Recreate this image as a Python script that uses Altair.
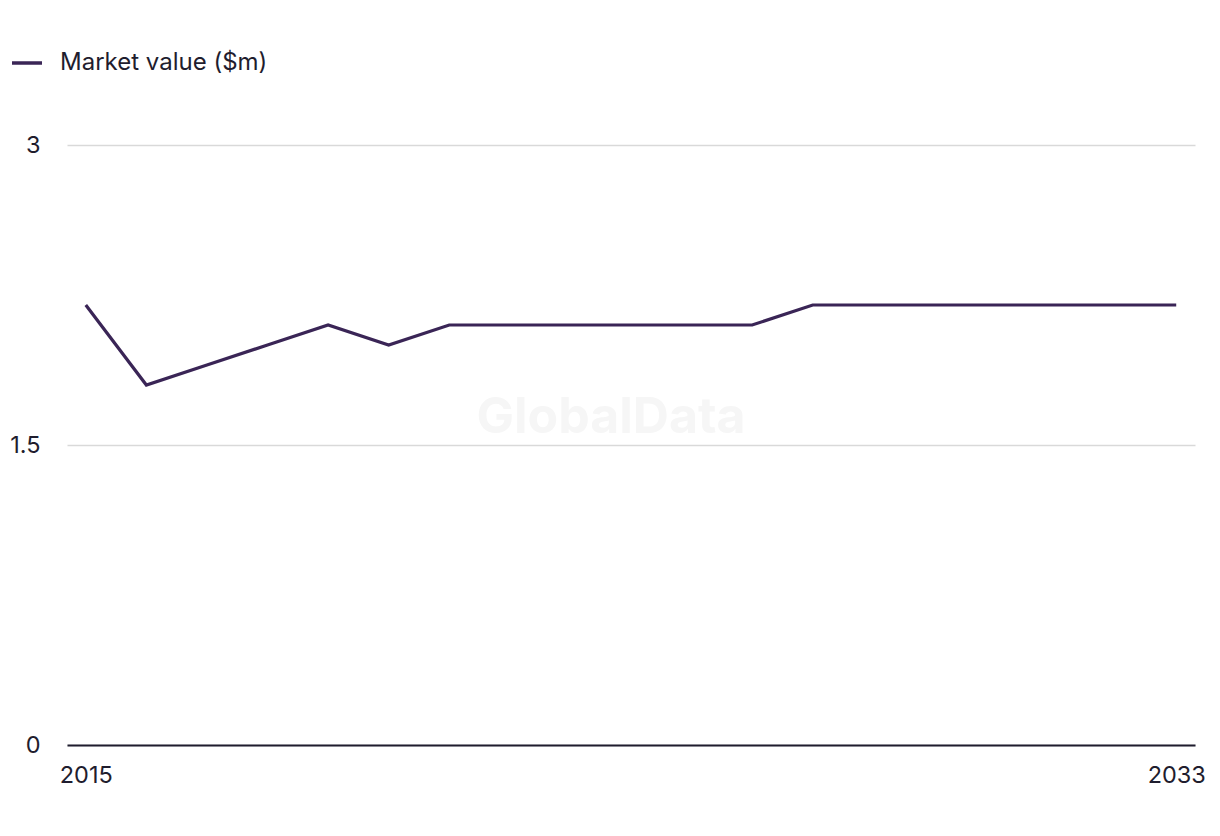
import altair as alt
import pandas as pd

years = list(range(2015, 2034))
values = [2.2, 1.8, 1.9, 2.0, 2.1, 2.0, 2.1, 2.1, 2.1, 2.1, 2.1, 2.1, 2.2, 2.2, 2.2, 2.2, 2.2, 2.2, 2.2]
series = ["Market value ($m)"] * len(years)

df = pd.DataFrame({"year": years, "value": values, "series": series})

TEXT = "#1f1d2e"
LINE = "#3a2556"
FONT = "Inter"
FS = 23.5

line = alt.Chart(df).mark_line(strokeWidth=3.2, strokeJoin="miter").encode(
    x=alt.X("year:O", scale=alt.Scale(type="point", padding=0.31),
            axis=alt.Axis(values=[2015, 2033], title=None, labelAngle=0, ticks=False,
                          domainColor=TEXT, domainWidth=2, labelPadding=18,
                          labelFontSize=FS, labelColor=TEXT, labelFont=FONT, grid=False)),
    y=alt.Y("value:Q", scale=alt.Scale(domain=[0, 3], nice=False),
            axis=alt.Axis(values=[0, 1.5, 3], labelExpr="datum.value + ''", title=None,
                          ticks=False, domain=False,
                          labelPadding=27, labelFontSize=FS, labelColor=TEXT, labelFont=FONT,
                          gridColor="#d9d9d9", gridWidth=1.5)),
    color=alt.Color("series:N", scale=alt.Scale(range=[LINE]),
                    legend=alt.Legend(title=None, orient="none", legendX=-57, legendY=-99,
                                      symbolType="stroke", symbolSize=900, symbolStrokeWidth=3.5,
                                      labelFontSize=24, labelColor=TEXT, labelFont=FONT,
                                      labelOffset=16, labelLimit=0)),
)

watermark = alt.Chart(pd.DataFrame({"t": ["GlobalData"]})).mark_text(
    fontSize=50, fontWeight="bold", color="#f6f6f6", font=FONT
).encode(text="t:N", x=alt.value(544), y=alt.value(273))

chart = alt.layer(watermark, line).properties(
    width=1128, height=600,
    autosize=alt.AutoSizeParams(type="none"),
    padding={"left": 67, "top": 145, "right": 25, "bottom": 91},
    background="white",
).configure_view(stroke=None)

chart.save("out.html", embed_options={"renderer": "svg", "actions": False})
